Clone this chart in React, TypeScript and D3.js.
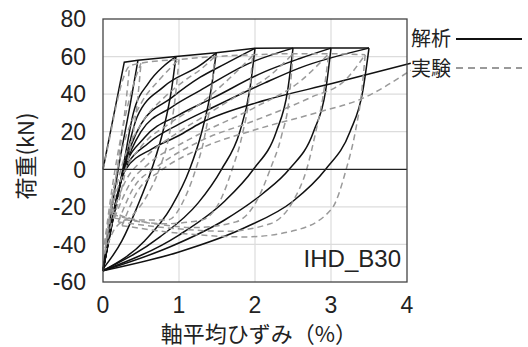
import React from 'react'
import * as d3 from 'd3'

type Pt = [number, number]

const X_TICKS = [0, 1, 2, 3, 4]
const Y_TICKS = [-60, -40, -20, 0, 20, 40, 60, 80]

// 解析 (analysis) – envelope, unloading and reloading branches
const ANA_ENV: Pt[] = [[0, 0], [0.28, 57], [0.46, 58], [0.96, 60], [1.49, 62], [2.0, 64.4], [2.5, 64.5], [3.0, 64.5], [3.5, 64.5]]
const ANA_UNLOAD: Pt[][] = [
  [[0, -53], [0.1, -25], [0.2, 0], [0.36, 35], [0.46, 58]],
  [[0, -53], [0.25, -38], [0.45, -20], [0.64, 0], [0.8, 22], [0.9, 42], [0.96, 60]],
  [[0, -54], [0.55, -38], [0.9, -20], [1.14, 0], [1.3, 20], [1.42, 42], [1.49, 62]],
  [[0, -54], [0.75, -36], [1.25, -18], [1.56, 0], [1.8, 20], [1.93, 42], [2.0, 64.4]],
  [[0, -54], [1.0, -35], [1.6, -17], [1.98, 0], [2.28, 20], [2.43, 42], [2.5, 64.5]],
  [[0, -54], [0.9, -41], [1.6, -27], [2.1, -13], [2.45, 0], [2.77, 20], [2.93, 42], [3.0, 64.5]],
  [[0, -54], [1.0, -44], [1.87, -31], [2.5, -17], [2.93, 0], [3.25, 20], [3.42, 42], [3.5, 64.5]],
]
const ANA_RELOAD: Pt[][] = [
  [[0, -54], [0.26, 0], [0.4, 30], [0.6, 46], [0.8, 55], [0.96, 60]],
  [[0, -54], [0.27, 0], [0.45, 28], [0.8, 44], [1.28, 55.4], [1.49, 62]],
  [[0, -54], [0.27, 0], [0.5, 24], [0.9, 38], [1.28, 49], [1.6, 56], [2.0, 64.4]],
  [[0, -54], [0.28, 0], [0.5, 20], [0.9, 33], [1.28, 42], [1.9, 56], [2.5, 64.5]],
  [[0, -54], [0.28, 0], [0.55, 17], [1.0, 29], [1.45, 38], [2.13, 52], [2.59, 59], [3.0, 64.5]],
  [[0, -54], [0.29, 0], [0.6, 14], [1.0, 24], [1.45, 33], [2.13, 46], [2.59, 54], [3.5, 64.5]],
  [[0, -54], [0.3, 0], [0.65, 11], [1.0, 18], [1.28, 24.5], [2.13, 36.7], [3.0, 45.5], [4.05, 56.4]],
]

// 実験 (experiment)
const EXP_ENV: Pt[] = [[0, 0], [0.08, 15], [0.18, 35], [0.28, 50], [0.35, 55], [0.5, 56.5], [1.0, 58.5], [1.47, 60], [1.97, 61], [2.5, 61.5], [2.97, 61.5], [3.45, 61]]
const EXP_UNLOAD: Pt[][] = [
  [[0.02, -40], [0.08, -25], [0.15, -10], [0.22, 10], [0.3, 35], [0.35, 55]],
  [[0.03, -42], [0.12, -28], [0.22, -15], [0.3, 0], [0.38, 15], [0.45, 35], [0.5, 56.5]],
  [[0.02, -45], [0.15, -32], [0.4, -24], [0.58, -14], [0.74, 0], [0.87, 18], [0.95, 38], [1.0, 58.5]],
  [[0.1, -22], [0.2, -24], [0.5, -27], [0.85, -27], [1.08, -15], [1.22, 0], [1.34, 18], [1.42, 38], [1.47, 60]],
  [[0.12, -24], [0.3, -26], [0.8, -29], [1.3, -27], [1.55, -16], [1.7, 0], [1.83, 18], [1.92, 38], [1.97, 60.5]],
  [[0.15, -26], [0.5, -28], [1.2, -31], [1.75, -28], [2.02, -17], [2.2, 0], [2.35, 18], [2.45, 38], [2.5, 61.5]],
  [[0.2, -28], [0.8, -31], [1.6, -33], [2.2, -29], [2.5, -17], [2.68, 0], [2.8, 20], [2.9, 40], [2.97, 61.5]],
  [[0.25, -30], [1.0, -34], [1.87, -36], [2.53, -32.5], [3.01, -21], [3.2, 0], [3.32, 20], [3.4, 40], [3.45, 61]],
]
const EXP_RELOAD: Pt[][] = [
  [[0.02, -40], [0.12, -10], [0.25, 20], [0.4, 45], [0.5, 56.5]],
  [[0.03, -42], [0.12, -15], [0.25, 10], [0.5, 35], [0.75, 48], [1.0, 58.5]],
  [[0.02, -45], [0.12, -20], [0.25, 2], [0.5, 24], [0.8, 38], [1.1, 48], [1.28, 53], [1.47, 60]],
  [[0.1, -22], [0.25, -4], [0.5, 12], [0.9, 25], [1.28, 35], [1.6, 46], [1.97, 60.5]],
  [[0.12, -24], [0.3, -6], [0.55, 6], [1.0, 20], [1.28, 27], [1.8, 40], [2.2, 50], [2.5, 61.5]],
  [[0.15, -26], [0.35, -8], [0.6, 3], [1.0, 13], [1.28, 19], [2.0, 33], [2.6, 47], [2.97, 61.5]],
  [[0.2, -28], [0.4, -10], [0.7, 1], [1.28, 15], [2.0, 26], [2.72, 38], [3.2, 48], [3.45, 61]],
  [[0.25, -30], [0.45, -12], [0.75, -1], [1.28, 11], [2.0, 21], [2.8, 30], [3.43, 38], [4.05, 52.7]],
]

const W = 528
const H = 347
const plot = { left: 103, right: 407, top: 19, bottom: 282 }
const LATIN = '"Liberation Sans", Arial, sans-serif'
const CJK = '"Noto Sans CJK JP", sans-serif'

export default function App() {
  const x = d3.scaleLinear().domain([0, 4]).range([plot.left, plot.right])
  const y = d3.scaleLinear().domain([-60, 80]).range([plot.bottom, plot.top])

  const smooth = d3.line<Pt>().x(d => x(d[0])).y(d => y(d[1])).curve(d3.curveMonotoneX)
  const straight = d3.line<Pt>().x(d => x(d[0])).y(d => y(d[1]))

  const black = '#111'
  const gray = '#9a9a9a'
  const dash = '6 4'

  return (
    <svg width={W} height={H} style={{ position: 'absolute', left: 0, top: 0, background: '#fff' }}>
      {/* grid */}
      {X_TICKS.slice(1, -1).map(t => (
        <line key={'gx' + t} x1={x(t)} x2={x(t)} y1={plot.top} y2={plot.bottom} stroke="#dcdcdc" strokeWidth={1.2} />
      ))}
      {Y_TICKS.filter(t => t !== 0 && t !== -60 && t !== 80).map(t => (
        <line key={'gy' + t} x1={plot.left} x2={plot.right} y1={y(t)} y2={y(t)} stroke="#dcdcdc" strokeWidth={1.2} />
      ))}

      {/* analysis */}
      <g fill="none" stroke={black} strokeWidth={1.5}>
        {ANA_UNLOAD.map((c, i) => <path key={'au' + i} d={smooth(c) ?? ''} />)}
        {ANA_RELOAD.map((c, i) => <path key={'ar' + i} d={smooth(c) ?? ''} />)}
        <path d={straight(ANA_ENV) ?? ''} />
      </g>

      {/* experiment */}
      <g fill="none" stroke={gray} strokeWidth={1.5} strokeDasharray={dash}>
        {EXP_UNLOAD.map((c, i) => <path key={'eu' + i} d={smooth(c) ?? ''} />)}
        {EXP_RELOAD.map((c, i) => <path key={'er' + i} d={smooth(c) ?? ''} />)}
        <path d={smooth(EXP_ENV) ?? ''} />
      </g>

      {/* zero line and frame */}
      <line x1={plot.left} x2={plot.right} y1={y(0)} y2={y(0)} stroke="#222" strokeWidth={1.3} />
      <rect x={plot.left} y={plot.top} width={plot.right - plot.left} height={plot.bottom - plot.top}
        fill="none" stroke="#444" strokeWidth={1.3} />

      {/* ticks */}
      {Y_TICKS.map(t => (
        <text key={'ty' + t} x={86} y={y(t)} dy="0.36em" textAnchor="end" fontFamily={LATIN} fontSize={23} fill="#222">{t}</text>
      ))}
      {X_TICKS.map(t => (
        <text key={'tx' + t} x={x(t)} y={313} textAnchor="middle" fontFamily={LATIN} fontSize={23} fill="#222">{t}</text>
      ))}

      <text x={plot.right - 6} y={267} textAnchor="end" fontFamily={LATIN} fontSize={24} fill="#222">IHD_B30</text>

      {/* axis titles */}
      <text transform={`translate(34,156) rotate(-90)`} textAnchor="middle" fontFamily={CJK} fontSize={22} fill="#222">荷重(kN)</text>
      <text x={259} y={342} textAnchor="middle" fontFamily={CJK} fontSize={22} fill="#222">軸平均ひずみ（%）</text>

      {/* legend */}
      <text x={411} y={46} fontFamily={CJK} fontSize={20} fill="#222">解析</text>
      <line x1={456} x2={522} y1={39} y2={39} stroke={black} strokeWidth={2} />
      <text x={411} y={76} fontFamily={CJK} fontSize={20} fill="#222">実験</text>
      <line x1={456} x2={522} y1={68} y2={68} stroke={gray} strokeWidth={2} strokeDasharray="7 5" />
    </svg>
  )
}
